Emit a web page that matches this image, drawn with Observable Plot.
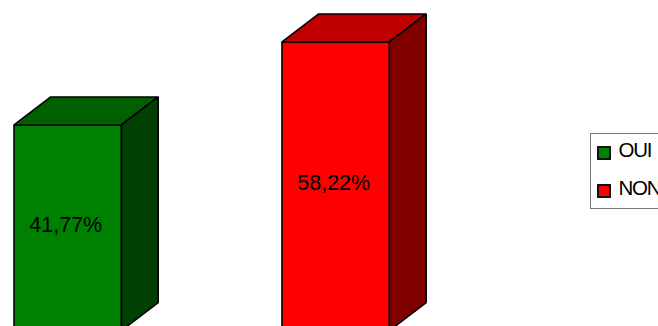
<!DOCTYPE html>
<html lang="fr">
<head>
<meta charset="utf-8">
<script src="https://cdn.jsdelivr.net/npm/d3@7"></script>
<script src="https://cdn.jsdelivr.net/npm/@observablehq/plot@0.6"></script>
<style>
  html, body { margin: 0; padding: 0; background: #fff; overflow: hidden; }
  #chart { position: relative; width: 658px; height: 326px; overflow: hidden; }
  #chart svg { display: block; position: absolute; left: 0; top: 0; }
  .legend {
    position: absolute; left: 589.5px; top: 132.5px; width: 90px; height: 76px;
    box-sizing: border-box; border: 1px solid #777; background: #fff;
    font: 20.5px "Liberation Sans", Arial, sans-serif; letter-spacing: -1.3px; color: #000;
  }
  .legend div { position: absolute; left: 6px; white-space: nowrap; line-height: 24px; }
  .legend i {
    display: inline-block; box-sizing: border-box; width: 14px; height: 14px;
    border: 2px solid #111; margin-right: 8px; vertical-align: -3px;
  }
</style>
</head>
<body>
<div id="chart"></div>
<script>
// Share of answers per category
const categories = ["OUI", "NON"];
const shares = [41.77, 58.22];
const labels = ["41,77%", "58,22%"];
const frontColors = ["#008000", "#ff0000"];
const topColors = ["#006000", "#c00000"];
const sideColors = ["#004000", "#800000"];

// Extrusion of the 3D columns, in scale units
const barFloor = 1;
const barWidth = 0.401;
const depthX = 0.137;
const depthY = 5.55;

// One closed polygon per visible column face
const faces = categories.flatMap((name, i) => {
  const x0 = i, x1 = i + barWidth, top = shares[i];
  const face = (part, fill, corners) =>
    corners.map(([x, y]) => ({face: `${name}-${part}`, fill, x, y}));
  return [
    ...face("front", frontColors[i], [[x0, barFloor], [x0, top], [x1, top], [x1, barFloor]]),
    ...face("top", topColors[i], [[x0, top], [x0 + depthX, top + depthY], [x1 + depthX, top + depthY], [x1, top]]),
    ...face("side", sideColors[i], [[x1, barFloor], [x1, top], [x1 + depthX, top + depthY], [x1 + depthX, barFloor + depthY]])
  ];
});

const valueLabels = categories.map((name, i) => ({
  x: i + barWidth / 2, y: (shares[i] + barFloor) / 2, text: labels[i]
}));

const chart = Plot.plot({
  width: 658,
  height: 326,
  margin: 0,
  x: {domain: [-0.0504, 2.405], range: [0, 658], axis: null},
  y: {domain: [1.81, 66.44], range: [326, 0], axis: null},
  style: {background: "transparent"},
  marks: [
    Plot.line(faces, {
      x: "x", y: "y", z: "face",
      fill: "fill", stroke: "#000", strokeWidth: 1.6,
      curve: "linear-closed", strokeLinejoin: "miter", clip: false
    }),
    Plot.text(valueLabels, {
      x: "x", y: "y", text: "text", dx: -2, dy: -3,
      fontSize: 21.5, fontFamily: "Liberation Sans, Arial, sans-serif",
      letterSpacing: "-0.2px", fill: "#000"
    })
  ]
});

const host = document.getElementById("chart");
host.append(chart);

// Legend box, running past the right edge of the page
const legend = document.createElement("div");
legend.className = "legend";
categories.forEach((name, i) => {
  const row = document.createElement("div");
  row.style.top = `${4 + i * 38}px`;
  const swatch = document.createElement("i");
  swatch.style.background = frontColors[i];
  row.append(swatch, name);
  legend.append(row);
});
host.append(legend);
</script>
</body>
</html>
